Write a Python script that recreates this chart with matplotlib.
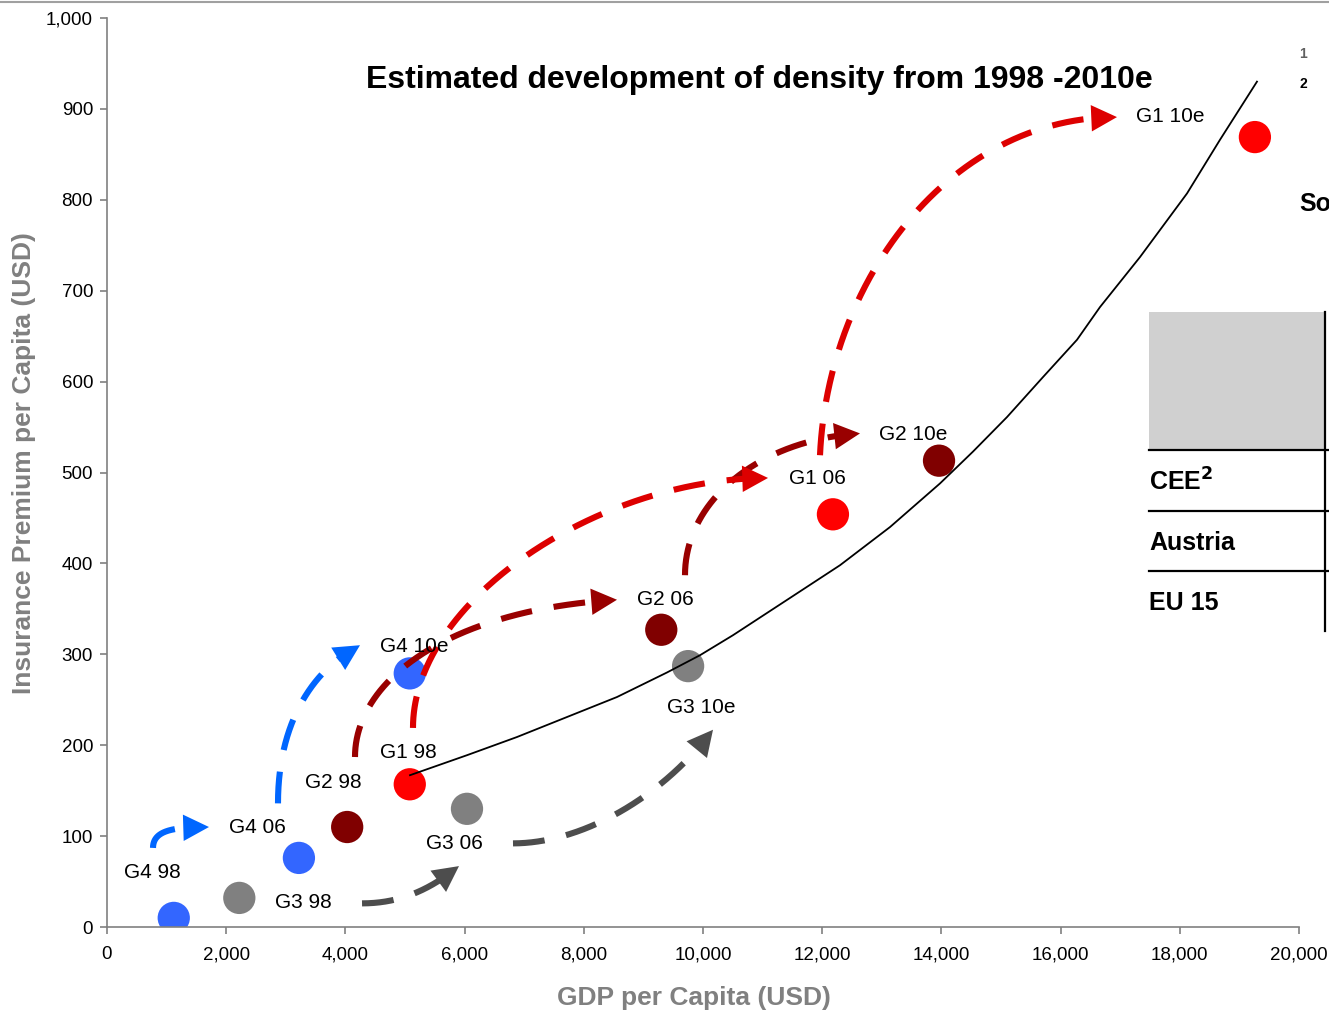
import numpy as np
import matplotlib.pyplot as plt
from matplotlib.ticker import FuncFormatter
from matplotlib.lines import Line2D
from matplotlib.patches import Rectangle

plt.rcParams['font.family'] = ['Liberation Sans', 'DejaVu Sans']

# groups of countries, GDP per capita vs insurance premium per capita (USD)
names = ['G4 98', 'G3 98', 'G4 06', 'G2 98', 'G1 98', 'G3 06',
         'G4 10e', 'G2 06', 'G3 10e', 'G1 06', 'G2 10e', 'G1 10e']
group = ['G4', 'G3', 'G4', 'G2', 'G1', 'G3', 'G4', 'G2', 'G3', 'G1', 'G2', 'G1']
gdp = [1120, 2220, 3220, 4030, 5080, 6040, 5080, 9300, 9750, 12180, 13960, 19260]
premium = [10, 32, 76, 110, 157, 130, 279, 327, 287, 454, 513, 869]

# where the labels sit (data units, left edge / middle)
label_x = [285, 2820, 2050, 3320, 4580, 5350, 4580, 8890, 9400, 11440, 12950, 17270]
label_y = [60, 27, 109, 159, 192, 92, 309, 360, 242, 493, 542, 892]

# trend line
trend_gdp = [5084, 6040, 6879, 7718, 8557, 9396, 9950, 10503, 11460, 12299,
             13138, 13977, 14530, 15101, 15705, 16275, 16661, 17332, 18121,
             18674, 19295]
trend_premium = [167, 189, 209, 231, 253, 280, 299, 321, 362, 398,
                 440, 488, 523, 561, 605, 646, 682, 737, 807, 866, 930]

# arrows: start, control 1, control 2, tip
arrow_group = ['G4', 'G4', 'G2', 'G2', 'G1', 'G1', 'G3', 'G3']
arrow_pts = [
    [(772, 87), (772, 107), (1141, 110), (1711, 110)],
    [(2869, 136), (2869, 228), (3490, 285), (4245, 310)],
    [(4161, 187), (4161, 272), (5755, 349), (8557, 360)],
    [(9698, 387), (9698, 470), (10956, 536), (12634, 543)],
    [(5134, 219), (5134, 360), (8272, 494), (11091, 494)],
    [(11963, 519), (12097, 712), (14144, 891), (16946, 891)],
    [(4279, 26), (4916, 26), (5419, 41), (5906, 67)],
    [(6812, 92), (7936, 92), (9279, 140), (10168, 217)],
]

dot_colors = {'G1': '#FF0000', 'G2': '#800000', 'G3': '#808080', 'G4': '#3366FF'}
arrow_colors = {'G1': '#DD0000', 'G2': '#990000', 'G3': '#4D4D4D', 'G4': '#0066FF'}

W, H = 1329, 1011
fig = plt.figure(figsize=(W / 100, H / 100), dpi=100)
ax = fig.add_axes([107 / W, 1 - 927 / H, (1299 - 107) / W, (927 - 18) / H])
ax.set_xlim(0, 20000)
ax.set_ylim(0, 1000)

ax.scatter(gdp, premium, s=540, c=[dot_colors[g] for g in group], linewidths=0, zorder=2)
ax.plot(trend_gdp, trend_premium, color='black', lw=1.3, zorder=3)

for n, x, y in zip(names, label_x, label_y):
    ax.text(x, y, n, fontsize=15, ha='left', va='center', zorder=5)

head_px = 23
for g, pts in zip(arrow_group, arrow_pts):
    p = np.array(pts, dtype=float)
    t = np.linspace(0, 1, 300)[:, None]
    curve = ((1 - t) ** 3 * p[0] + 3 * (1 - t) ** 2 * t * p[1]
             + 3 * (1 - t) * t ** 2 * p[2] + t ** 3 * p[3])
    disp = ax.transData.transform(curve)
    seg = np.hypot(*np.diff(disp, axis=0).T)
    remain = np.concatenate([np.cumsum(seg[::-1])[::-1], [0]])
    body = curve[remain > head_px * 0.85]
    base = curve[np.argmin(np.abs(remain - head_px))]
    c = arrow_colors[g]
    ax.plot(body[:, 0], body[:, 1], color=c, lw=4.4, linestyle=(0, (5.2, 3.6)),
            dash_capstyle='butt', solid_capstyle='butt', zorder=4)
    ax.annotate('', xy=p[3], xytext=base,
                arrowprops=dict(arrowstyle='-|>,head_length=1.85,head_width=0.95',
                                mutation_scale=10, lw=0, color=c,
                                shrinkA=0, shrinkB=0), zorder=4)

for side in ['top', 'right']:
    ax.spines[side].set_visible(False)
for side in ['left', 'bottom']:
    ax.spines[side].set_color('#808080')
    ax.spines[side].set_linewidth(1.2)
ax.set_xticks(range(0, 20001, 2000))
ax.set_yticks(range(0, 1001, 100))
ax.xaxis.set_major_formatter(FuncFormatter(lambda v, _: f'{int(v):,}'))
ax.yaxis.set_major_formatter(FuncFormatter(lambda v, _: f'{int(v):,}'))
ax.tick_params(direction='out', length=5, width=1.2, color='#808080', labelsize=13.5)
ax.tick_params(axis='x', pad=9)
ax.tick_params(axis='y', pad=5)
ax.set_xlabel('GDP per Capita (USD)', fontsize=19, fontweight='bold', color='#808080', labelpad=16)
ax.set_ylabel('Insurance Premium per Capita (USD)', fontsize=19, fontweight='bold', color='#808080', labelpad=7)
ax.xaxis.label.set_x(0.4925)
ax.yaxis.label.set_y(0.51)

fig.text(759 / W, 1 - 80 / H, 'Estimated development of density from 1998 -2010e',
         fontsize=23, fontweight='bold', ha='center', va='center')

# cut-off table and notes on the right
def fx(x):
    return x / W

def fy(y):
    return 1 - y / H

fig.add_artist(Line2D([0, 1], [fy(2), fy(2)], color='#A0A0A0', lw=1.5))
fig.add_artist(Rectangle((fx(1149), fy(450)), fx(1325 - 1149), (450 - 312) / H,
                         facecolor='#D0D0D0', edgecolor='none'))
for yy in [450, 511, 571]:
    fig.add_artist(Line2D([fx(1149), fx(1329)], [fy(yy), fy(yy)], color='black', lw=1.6))
fig.add_artist(Line2D([fx(1325), fx(1325)], [fy(312), fy(631)], color='black', lw=1.6))
for yy, txt in zip([482, 543, 603], ['CEE$^{\\mathbf{2}}$', 'Austria', 'EU 15']):
    fig.text(fx(1149), fy(yy), txt, fontsize=18, fontweight='bold', ha='left', va='center')
fig.text(fx(1299), fy(204), 'So', fontsize=18, fontweight='bold', ha='left', va='center')
fig.text(fx(1299), fy(54), '1', fontsize=10, fontweight='bold', color='#606060', ha='left', va='center')
fig.text(fx(1299), fy(84), '2', fontsize=10, fontweight='bold', ha='left', va='center')

fig.savefig('out.png', dpi=100)
